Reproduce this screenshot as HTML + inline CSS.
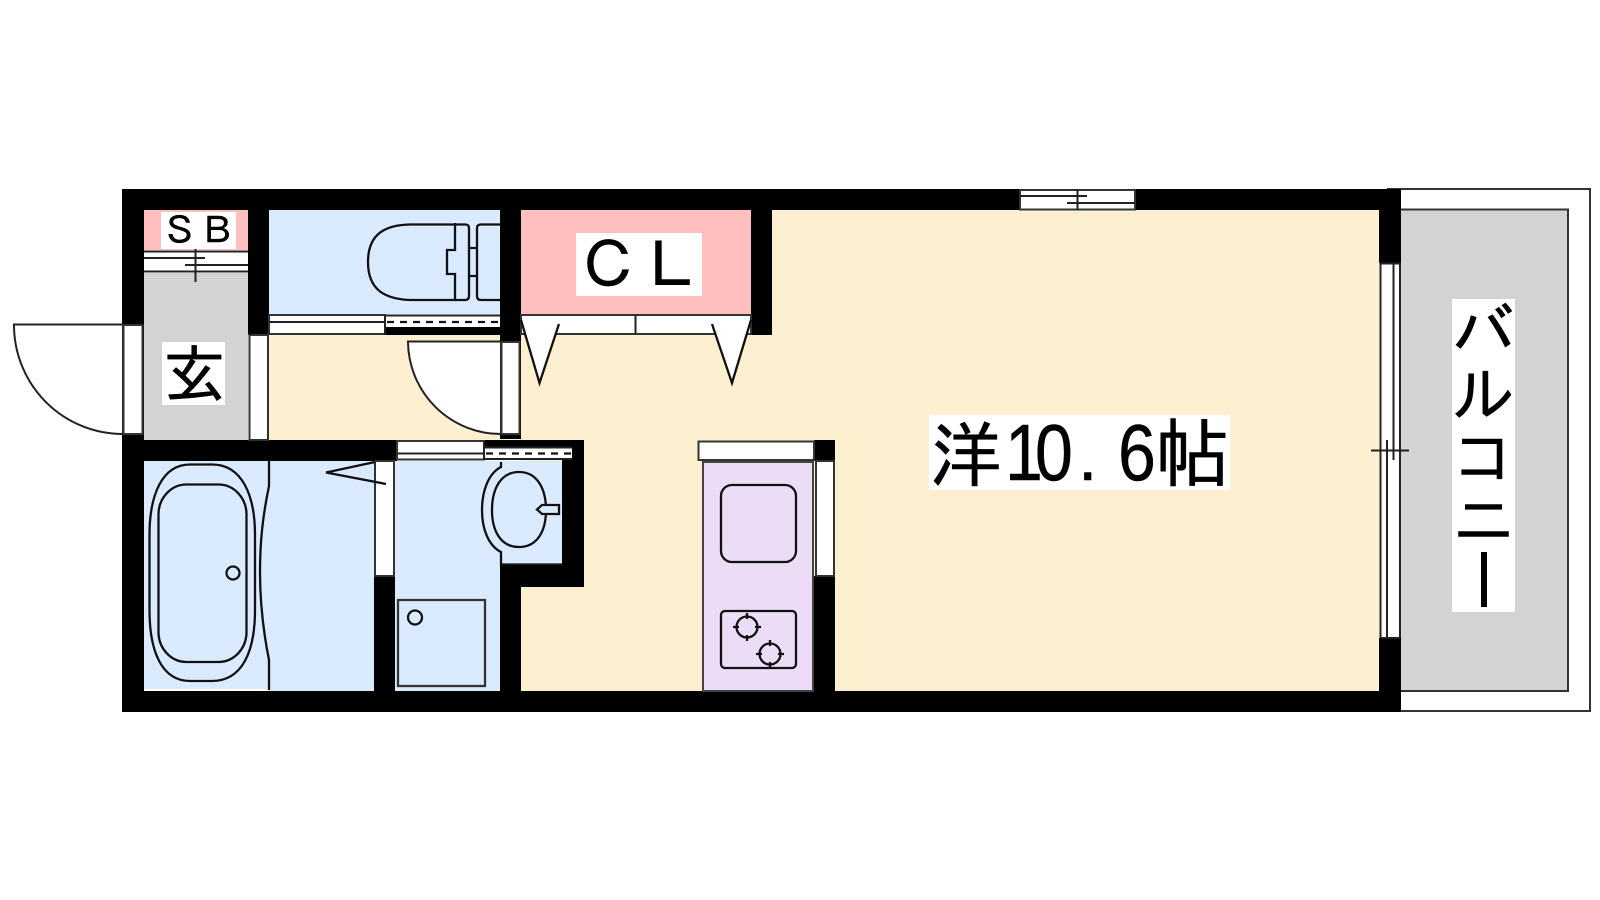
<!DOCTYPE html>
<html lang="ja">
<head>
<meta charset="utf-8">
<style>
html,body{margin:0;padding:0;background:#fff;width:1600px;height:900px;overflow:hidden}
svg{display:block}
text{font-family:"IPAGothic","Liberation Sans","Noto Sans CJK JP",sans-serif;fill:#000;stroke:#000;stroke-width:.5}
.l{stroke:#222;stroke-width:2;fill:none}
.t{stroke:#111;stroke-width:2.300;fill:none}
.w{fill:#fff;stroke:#333;stroke-width:2}
</style>
</head>
<body>
<svg width="1600" height="900" viewBox="0 0 1600 900" xmlns="http://www.w3.org/2000/svg">
<rect width="1600" height="900" fill="#fff"/>

<!-- balcony -->
<rect x="1388" y="189" width="202" height="522" fill="#fff" stroke="#333" stroke-width="2"/>
<rect x="1400" y="209.500" width="168" height="481.500" fill="#d3d3d3" stroke="#333" stroke-width="2"/>

<!-- floors -->
<rect x="521" y="210" width="858" height="481" fill="#fdf0d0"/>
<rect x="269" y="335" width="252" height="105" fill="#fdf0d0"/>
<rect x="144" y="210" width="104" height="40" fill="#ffbfbf"/>
<rect x="144" y="273" width="104" height="167" fill="#d3d3d3"/>
<rect x="269" y="210" width="231" height="104" fill="#dbebff"/>
<rect x="521" y="210" width="230" height="104" fill="#ffbfbf"/>
<rect x="144" y="461" width="230" height="228" fill="#dbebff"/>
<rect x="268" y="461" width="106" height="230" fill="#dbebff"/>
<rect x="395" y="461" width="105" height="230" fill="#dbebff"/>
<rect x="500" y="461" width="62" height="104" fill="#dbebff"/>

<!-- walls -->
<g fill="#000">
<rect x="122" y="189" width="1279" height="21"/>
<rect x="122" y="691" width="1279" height="21"/>
<rect x="122" y="189" width="22" height="523"/>
<rect x="248" y="210" width="21" height="125"/>
<rect x="500" y="210" width="21" height="229"/>
<rect x="751" y="210" width="21" height="125"/>
<rect x="122" y="440" width="275" height="21"/>
<rect x="374" y="576" width="21" height="115"/>
<rect x="484" y="440" width="100" height="8"/>
<rect x="562" y="440" width="22" height="147"/>
<rect x="500" y="565" width="84" height="22"/>
<rect x="500" y="565" width="21" height="126"/>
<rect x="813" y="576" width="22" height="115"/>
<rect x="814" y="440" width="21" height="21"/>
<rect x="1379" y="189" width="22" height="74"/>
<rect x="1379" y="638" width="22" height="74"/>
<rect x="385" y="327" width="115" height="8"/>
</g>

<!-- top window -->
<rect x="1020" y="190" width="115" height="19.500" class="w"/>
<path class="l" d="M1020 196H1087M1067 203H1135M1077.500 189V210"/>

<!-- SB window -->
<rect x="144" y="251" width="104" height="21" fill="#fff"/>
<path class="l" d="M144 251.500H248M144 271.500H248M144 258H205M185 265H248M195.500 249V282"/>

<!-- entry door -->
<path d="M14 324.500H123V434A109 109 0 0 1 14 324.500Z" fill="#fff" stroke="#222" stroke-width="2"/>
<rect x="123.500" y="325" width="19" height="109" class="w"/>

<!-- door hall -->
<rect x="249.500" y="335" width="18.500" height="105" class="w"/>

<!-- toilet window band -->
<rect x="269" y="315" width="116" height="19" class="w"/>
<path class="l" d="M269 322H385"/>
<rect x="385" y="316" width="115" height="11" fill="#fff"/>
<path class="l" d="M385 315.500H500M385 316V335"/>
<path d="M387 322H500" stroke="#111" stroke-width="2.300" stroke-dasharray="7 6" fill="none"/>

<!-- closet doors -->
<rect x="521" y="315" width="230" height="19" class="w"/>
<path class="l" d="M635.500 315V334"/>
<path d="M521 320L539.500 383L559 324" fill="#fff" stroke="#111" stroke-width="2.300"/>
<path d="M712 324L732 383L751 320" fill="#fff" stroke="#111" stroke-width="2.300"/>

<!-- inner door -->
<path d="M408 341.500H501V434A93 93 0 0 1 408 341.500Z" fill="#fff" stroke="#222" stroke-width="2"/>
<rect x="501.500" y="342" width="18" height="92" class="w"/>

<!-- wash room band -->
<rect x="397" y="441" width="87" height="18.500" class="w"/>
<path class="l" d="M397 453.500H484"/>
<rect x="484" y="448" width="78" height="11" fill="#fff"/>
<rect x="562" y="448" width="10" height="10" fill="#fff"/>
<path class="l" d="M484 447.500H572M484 459H572M484 441V460"/>
<path d="M486 453.500H572" stroke="#111" stroke-width="2.300" stroke-dasharray="7 6" fill="none"/>

<!-- toilet -->
<path class="t" d="M410 224.500H465Q469 224.500 469 228V296Q469 300 465 300H410C385 299 368 290 368 262C368 234 385 225 410 224.500Z"/>
<path class="t" d="M455 223V250H447V274H455V301M469 248H477M469 276H477"/>
<path class="t" d="M500 224.500H481Q477 224.500 477 228V296Q477 300 481 300H500"/>

<!-- bath -->
<path class="t" d="M190 464.500H212C242 464.500 255 495 255 535V610C255 652 242 681 212 681H190C162 681 149.500 652 149.500 610V535C149.500 495 162 464.500 190 464.500Z"/>
<rect x="158.500" y="484.500" width="88" height="177.500" rx="28" ry="30" class="t"/>
<circle cx="233" cy="573" r="6.500" class="t"/>
<path class="t" d="M269 461V486C263 515 260 540 260 572C260 605 264 635 269 660V690"/>
<rect x="375" y="461" width="19" height="115" class="w"/>
<path class="t" d="M386 484L326 472.500L375 462"/>

<!-- wash room -->
<path class="t" d="M501 462V467C489 473 482 490 482 510C482 530 489 546 501 552V564.500H562"/>
<path class="t" d="M519 472C538 472 546 490 546 510C546 530 538 547 519 547C500 547 492 530 492 510C492 490 500 472 519 472Z"/>
<path d="M559 505H542L537 509.500L542 514H559Z" fill="#dbebff" stroke="#111" stroke-width="2.300"/>
<rect x="398" y="600" width="87" height="86" fill="none" stroke="#333" stroke-width="2.300"/>
<circle cx="415" cy="617.500" r="7" class="t"/>

<!-- kitchen -->
<rect x="703" y="462" width="110" height="229" fill="#ecdcf5" stroke="#444" stroke-width="2"/>
<rect x="698.500" y="441.500" width="115.500" height="18.500" class="w"/>
<rect x="816" y="461" width="18" height="115" class="w"/>
<rect x="721" y="485" width="75" height="77" rx="11" class="t"/>
<rect x="721" y="611" width="75" height="57" rx="4" class="t"/>
<circle cx="747" cy="627" r="10.500" class="t"/>
<path class="t" d="M747 613V619M747 635V641M733 627H739M755 627H761"/>
<circle cx="770" cy="654" r="10.500" class="t"/>
<path class="t" d="M770 640V646M770 662V668M756 654H762M778 654H784"/>

<!-- balcony window -->
<rect x="1380" y="263" width="20" height="375" fill="#fff"/>
<path class="l" d="M1380.500 263V638M1400 263V638M1387 440V638M1393.500 263V460M1371 450.500H1409"/>
<path class="l" d="M1380 263.500H1400M1380 638H1400"/>

<!-- labels -->
<rect x="161" y="212" width="75" height="37" fill="#fff"/>
<text x="161" y="244" font-size="37.500">ＳＢ</text>
<rect x="576" y="233" width="126" height="63" fill="#fff"/>
<text x="577" y="288" font-size="63">ＣＬ</text>
<rect x="162" y="342" width="63" height="63" fill="#fff"/>
<text x="163" y="397" font-size="63">玄</text>
<rect x="929" y="415" width="301" height="75" fill="#fff"/>
<text x="930" y="481" font-size="72">洋</text>
<text transform="translate(1005,480) scale(.85,1)" style="font-family:'Liberation Sans',sans-serif" font-size="80">1</text>
<text transform="translate(1035,480) scale(.85,1)" style="font-family:'Liberation Sans',sans-serif" font-size="80">0</text>
<text x="1078" y="480" style="font-family:'Liberation Sans',sans-serif" font-size="70">.</text>
<text transform="translate(1118,480) scale(.85,1)" style="font-family:'Liberation Sans',sans-serif" font-size="80">6</text>
<text x="1155" y="481" font-size="75">帖</text>
<rect x="1452" y="299" width="63" height="313" fill="#fff"/>
<text x="1452" y="354" font-size="63">バ</text>
<text x="1452" y="417" font-size="63">ル</text>
<text x="1452" y="480" font-size="63">コ</text>
<text x="1452" y="543" font-size="63">ニ</text>
<rect x="1481" y="552" width="6" height="55" fill="#000"/>
</svg>
</body>
</html>
